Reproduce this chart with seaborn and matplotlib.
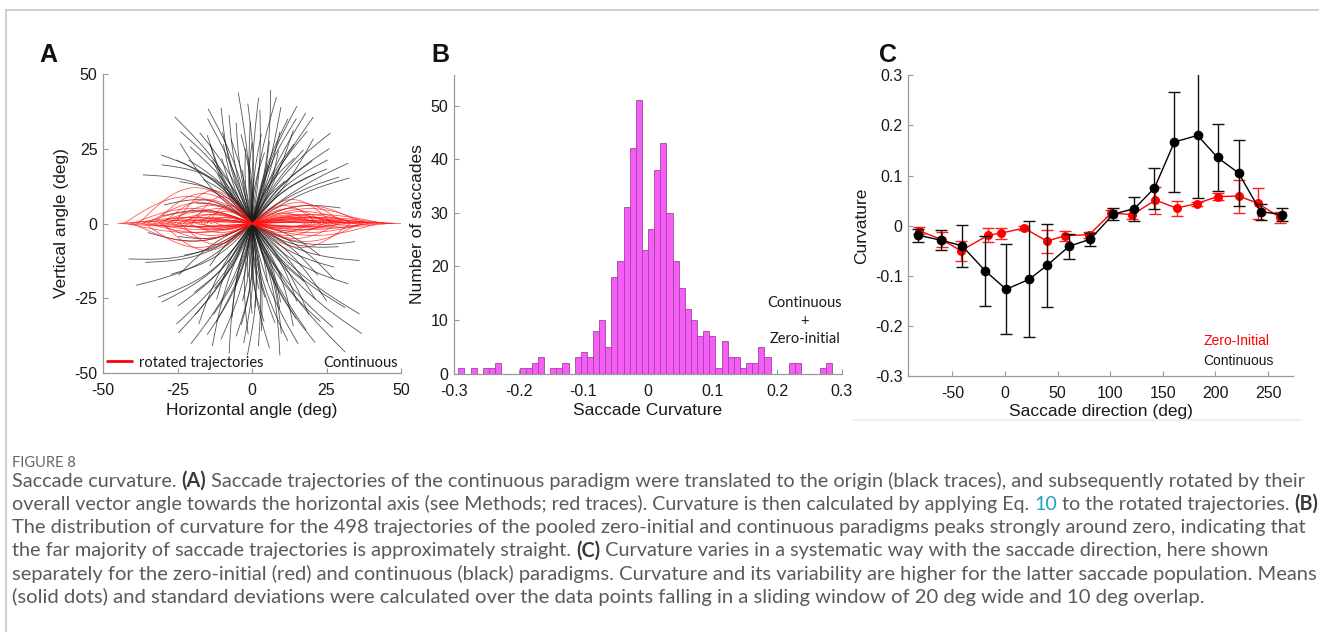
import numpy as np
import pandas as pd
import matplotlib
matplotlib.use("Agg")
import matplotlib.pyplot as plt
import seaborn as sns
from matplotlib.lines import Line2D
from matplotlib.transforms import IdentityTransform

# ---------------- data ----------------
# Panel A: continuous-paradigm trajectories (direction deg, amplitude deg, relative bend)
black_dir = [82, 105, 69, 64, 126, 49, 36, 25, 143, 156, 99, 91, 86, 71, 132, 120, 117, 147, 46, 32,
             28, 57, 95, 78, 110, 62, 138, 125, 100, 75, 88, 52, 168, 160, 113, 97, 84, 66, 59, 40,
             135, 150, 122, 108, 93, 80, 73, 55,
             87, 92, 102, 76, 67, 111, 118, 129, 60, 54, 44, 140, 96, 79, 104, 90, 70, 115, 128, 38,
             196, 221, 243, 266, 291, 315, 306, 341, 332, 250, 258, 262, 270, 275, 280, 285, 295, 300,
             305, 310, 318, 322, 328, 335, 345, 230, 225, 238, 245, 248, 255, 265, 285, 300, 212, 205,
             218, 233, 252, 268, 278, 288, 298, 312, 240, 272, 283,
             255, 260, 264, 268, 273, 277, 282, 287, 292, 297, 302, 308, 314, 320, 326, 236, 242, 247,
             228, 215, 200, 208, 263, 276, 290,
             10, 350, 185, 175, 190]
black_amp = [45, 40, 42, 41, 44, 40, 31, 36, 38, 40, 34, 34, 38, 37, 36, 35, 33, 36, 29, 38,
             33, 26, 25, 28, 28, 30, 22, 20, 18, 20, 15, 18, 30, 20, 38, 30, 30, 34, 36, 33,
             30, 28, 25, 32, 22, 24, 32, 30,
             42, 40, 37, 40, 38, 41, 30, 33, 41, 35, 36, 33, 44, 43, 29, 27, 26, 24, 39, 27,
             43, 40, 45, 40, 43, 52, 53, 38, 31, 35, 32, 38, 30, 36, 25, 38, 35, 30,
             40, 33, 42, 28, 38, 25, 30, 30, 20, 36, 28, 40, 22, 18, 20, 20, 32, 25,
             40, 42, 43, 44, 42, 30, 45, 26, 25, 28, 34,
             40, 44, 34, 37, 41, 33, 45, 41, 37, 40, 36, 44, 36, 47, 33, 44, 38, 33,
             37, 30, 38, 44, 26, 22, 28,
             30, 35, 35, 30, 25]
black_bend = [-0.04, 0.05, 0.04, 0.03, -0.05, 0.06, 0.08, 0.05, -0.10, -0.12, 0.03, 0.02, -0.03, 0.04,
              0.06, -0.05, 0.05, -0.15, 0.06, 0.04, 0.06, 0.08, 0.04, -0.03, 0.05, 0.05, -0.08, 0.06,
              0.03, -0.04, 0.02, 0.07, -0.15, -0.10, -0.03, -0.04, 0.03, -0.03, 0.05, 0.07, -0.07,
              -0.12, 0.04, 0.02, -0.03, 0.05, -0.02, 0.04,
              0.02, -0.03, 0.04, -0.02, 0.05, -0.04, 0.06, -0.05, 0.03, -0.04, 0.06, -0.08, -0.02,
              0.03, -0.03, 0.04, -0.05, 0.05, -0.06, 0.07,
              0.10, 0.08, 0.06, 0.04, -0.05, -0.06, -0.05, -0.08, -0.07, 0.05, -0.04, 0.06, -0.03,
              0.04, -0.05, 0.05, -0.04, 0.06, -0.07, 0.05, -0.06, 0.06, -0.08, 0.07, -0.10, 0.07,
              -0.06, 0.05, -0.05, 0.07, 0.04, -0.03, 0.04, -0.05, 0.09, 0.08, 0.10, 0.06, -0.04,
              0.05, -0.05, 0.05, -0.06, -0.05, 0.06, 0.03, -0.04,
              0.05, -0.04, 0.05, -0.05, 0.04, -0.06, 0.05, -0.05, 0.06, -0.04, 0.05, -0.06, 0.06,
              -0.05, 0.07, 0.05, -0.05, 0.06, 0.07, -0.06, 0.10, 0.08, 0.04, -0.03, 0.05,
              0.10, -0.10, 0.12, -0.10, 0.10]
# rotated trajectories: end point on horizontal axis and peak lateral deviation
red_end_x = [-45, -43, -42, -40, -40, -38, -37, -36, -35, -34, -33, -32, -31, -30, -30, -29, -28, -27,
             -26, -25, -24, -23, -22, -21, -20, -18, -17, -15, -14,
             -44, -41, -39, -37, -35, -33, -31, -29, -27, -25, -23, -21, -19, -16, -12,
             50, 48, 46, 44, 42, 40, 39, 38, 37, 36, 35, 34, 33, 32, 31, 30, 29, 28, 27, 26, 25, 24,
             23, 22, 20, 18,
             47, 45, 43, 41, 39, 37, 35, 33, 31, 29, 27, 25, 23, 21, 19]
red_peak = [1, 9, -3, 5, -6, 12, 2, -8, 7, -2, 10, 4, -5, 8, -9, 1, 6, -4, 11, 3, -7, 5, 2, -3, 9,
            4, -2, 6, 1,
            -1, 2, -1, 4, -3, 1.5, -1, 3, -1.5, 0.5, -2, 1, -1, 2, -1,
            0.5, 1, -1.5, 3, -4, 2, 5, -3, 6, -6, 1, 4, -8, 2, 7, -2, -5, 3, 8, -1, 5, -4, 2, 6,
            -3, 1,
            0.5, 2, -1, 1.5, -2, 0.5, 3, -1, 2.5, 0.5, -2.5, 1.5, -1, 3.5, -1.5]
a_ticks = [-50, -25, 0, 25, 50]

# Panel B: histogram of curvature
hist_counts = [1, 0, 1, 0, 1, 1, 2, 0, 0, 0, 1, 1, 2, 3, 0, 1, 1, 2, 0, 3, 4, 3, 8, 10, 5, 18, 21,
               31, 42, 51, 23, 27, 38, 43, 30, 21, 16, 12, 10, 7, 8, 7, 1, 6, 3, 3, 1, 2, 2, 5, 3,
               0, 0, 0, 2, 2, 0, 0, 0, 1, 2]
hist_min, hist_max = -0.2933, 0.2846
b_xticks = [-0.3, -0.2, -0.1, 0, 0.1, 0.2, 0.3]
b_xlabels = ["-0.3", "-0.2", "-0.1", "0", "0.1", "0.2", "0.3"]
b_yticks = [0, 10, 20, 30, 40, 50]

# Panel C: curvature vs saccade direction
zi_dir = [-82, -60, -42, -16, -4, 18, 40, 57, 80, 101, 121, 143, 163, 182, 202, 222, 240, 261]
zi_mean = [-0.010, -0.028, -0.050, -0.019, -0.015, -0.005, -0.031, -0.020, -0.018, 0.025, 0.022,
           0.051, 0.035, 0.044, 0.058, 0.059, 0.045, 0.017]
zi_sd = [0.007, 0.015, 0.020, 0.014, 0.011, 0.004, 0.023, 0.010, 0.006, 0.007, 0.009, 0.027,
         0.015, 0.004, 0.007, 0.033, 0.031, 0.011]
co_dir = [-83, -61, -41, -19, 1, 23, 40, 61, 81, 103, 123, 142, 161, 183, 202, 222, 243, 263]
co_mean = [-0.019, -0.029, -0.040, -0.090, -0.127, -0.107, -0.079, -0.041, -0.027, 0.023, 0.034,
           0.075, 0.167, 0.180, 0.136, 0.105, 0.028, 0.022]
co_sd = [0.013, 0.020, 0.042, 0.070, 0.090, 0.116, 0.083, 0.025, 0.013, 0.012, 0.024, 0.041,
         0.100, 0.125, 0.067, 0.066, 0.016, 0.013]
c_xticks = [-50, 0, 50, 100, 150, 200, 250]
c_yticks = [-0.3, -0.2, -0.1, 0, 0.1, 0.2, 0.3]
c_ylabels = ["-0.3", "-0.2", "-0.1", "0", "0.1", "0.2", "0.3"]

caption_head = "FIGURE 8"
caption_lines = [
    [("Saccade curvature. ", "n"), ("(A)", "b"), (" Saccade trajectories of the continuous paradigm were translated to the origin (black traces), and subsequently rotated by their", "n")],
    [("overall vector angle towards the horizontal axis (see Methods; red traces). Curvature is then calculated by applying Eq. ", "n"), ("10", "l"), (" to the rotated trajectories. ", "n"), ("(B)", "b")],
    [("The distribution of curvature for the 498 trajectories of the pooled zero-initial and continuous paradigms peaks strongly around zero, indicating that", "n")],
    [("the far majority of saccade trajectories is approximately straight. ", "n"), ("(C)", "b"), (" Curvature varies in a systematic way with the saccade direction, here shown", "n")],
    [("separately for the zero-initial (red) and continuous (black) paradigms. Curvature and its variability are higher for the latter saccade population. Means", "n")],
    [("(solid dots) and standard deviations were calculated over the data points falling in a sliding window of 20 deg wide and 10 deg overlap.", "n")],
]
caption_line_ends = [1303, 1316.5, 1304, 1261.5, 1313, 1203]

# ---------------- style ----------------
sns.set_theme(style="white")
plt.rcParams["font.family"] = ["Liberation Sans", "DejaVu Sans"]
plt.rcParams["axes.unicode_minus"] = False

W, H = 1319, 632
fig = plt.figure(figsize=(W / 100, H / 100), dpi=100)
fig.patch.set_facecolor("white")

axA = fig.add_axes([103 / W, 1 - 373 / H, 298 / W, 299 / H])
axB = fig.add_axes([454 / W, 1 - 373.5 / H, 387.7 / W, 298.5 / H])
axC = fig.add_axes([908.3 / W, 1 - 376 / H, 385 / W, 300.7 / H])

SPINE = "#9a9a9a"
TXT = "#1a1a1a"
TICK_FS = 11.5
LAB_FS = 12.5


def style(ax):
    for s in ["top", "right"]:
        ax.spines[s].set_visible(False)
    for s in ["left", "bottom"]:
        ax.spines[s].set_color(SPINE)
        ax.spines[s].set_linewidth(0.9)
    ax.tick_params(axis="both", which="both", direction="in", length=3.5, width=0.8,
                   color=SPINE, labelsize=TICK_FS, labelcolor=TXT, bottom=True, left=True)
    ax.tick_params(axis="x", pad=7.5)
    ax.tick_params(axis="y", pad=4)
    ax.set_facecolor("white")
    ax.grid(False)


# ---------------- panel A ----------------
t = np.linspace(0, 1, 50)
frames = []
for i, (d, a, b) in enumerate(zip(black_dir, black_amp, black_bend)):
    th = np.deg2rad(d)
    along = a * t
    lat = b * a * np.sin(np.pi * t)
    frames.append(pd.DataFrame({"x": along * np.cos(th) - lat * np.sin(th),
                                "y": along * np.sin(th) + lat * np.cos(th),
                                "trace": i}))
black_df = pd.concat(frames, ignore_index=True)
frames = []
for i, (ex, pk) in enumerate(zip(red_end_x, red_peak)):
    frames.append(pd.DataFrame({"x": ex * t, "y": pk * np.sin(np.pi * t), "trace": i}))
red_df = pd.concat(frames, ignore_index=True)

sns.lineplot(data=black_df, x="x", y="y", units="trace", estimator=None, sort=False,
             color="#1c1c1c", lw=0.6, alpha=0.75, ax=axA, legend=False)
sns.lineplot(data=red_df, x="x", y="y", units="trace", estimator=None, sort=False,
             color="#ff1010", lw=0.55, alpha=0.75, ax=axA, legend=False)
style(axA)
axA.set_xlim(-50, 50)
axA.set_ylim(-50, 50)
axA.set_xticks(a_ticks)
axA.set_yticks(a_ticks)
axA.set_xlabel("Horizontal angle (deg)", fontsize=LAB_FS, color=TXT, va="center")
axA.set_ylabel("Vertical angle (deg)", fontsize=LAB_FS, color=TXT, va="center")
axA.xaxis.set_label_coords(0.5, -0.126)
axA.yaxis.set_label_coords(-0.139, 0.5)
leg = axA.legend(handles=[Line2D([], [], color="#ff0000", lw=2)], labels=["rotated trajectories"],
                 loc="center left", bbox_to_anchor=(0.012, 0.035), frameon=False, borderaxespad=0,
                 borderpad=0, handlelength=1.75, handletextpad=0.45,
                 prop={"family": "Lato", "size": 10.5})
for tx in leg.get_texts():
    tx.set_color(TXT)
axA.text(0.99, 0.035, "Continuous", transform=axA.transAxes, ha="right", va="center",
         fontsize=10.5, family="Lato", color=TXT)

# ---------------- panel B ----------------
edges = np.linspace(hist_min, hist_max, len(hist_counts) + 1)
hist_df = pd.DataFrame({"curv": (edges[:-1] + edges[1:]) / 2, "n": hist_counts})
sns.histplot(data=hist_df, x="curv", weights="n", bins=edges.tolist(), ax=axB, color="#f65cf6",
             edgecolor="#9b4a9b", linewidth=0.6, alpha=1.0)
style(axB)
axB.set_xlim(-0.3, 0.3)
axB.set_ylim(0, 55.7)
axB.set_xticks(b_xticks)
axB.set_xticklabels(b_xlabels)
axB.set_yticks(b_yticks)
axB.set_xlabel("Saccade Curvature", fontsize=LAB_FS, color=TXT, va="center")
axB.set_ylabel("Number of saccades", fontsize=LAB_FS, color=TXT, va="center")
axB.xaxis.set_label_coords(0.5, -0.124)
axB.yaxis.set_label_coords(-0.093, 0.5)
axB.text(0.905, 0.176, "Continuous\n+\nZero-initial", transform=axB.transAxes, ha="center",
         va="center", multialignment="center", linespacing=1.35, fontsize=10.5, family="Lato",
         color=TXT)

# ---------------- panel C ----------------
style(axC)
axC.errorbar(zi_dir, zi_mean, yerr=zi_sd, fmt="none", ecolor="#ff2020", elinewidth=1.0,
             capsize=4, capthick=1.0, zorder=2)
sns.lineplot(x=zi_dir, y=zi_mean, ax=axC, color="#ff0000", lw=1.0, marker="o", markersize=6.5,
             markeredgewidth=0, sort=False, zorder=3)
axC.errorbar(co_dir, co_mean, yerr=co_sd, fmt="none", ecolor="#111111", elinewidth=1.0,
             capsize=4, capthick=1.0, zorder=4)
sns.lineplot(x=co_dir, y=co_mean, ax=axC, color="#000000", lw=1.0, marker="o", markersize=7,
             markeredgewidth=0, sort=False, zorder=5)
axC.set_xlim(-92, 274)
axC.set_ylim(-0.3, 0.3)
axC.set_xticks(c_xticks)
axC.set_yticks(c_yticks)
axC.set_yticklabels(c_ylabels)
axC.set_xlabel("Saccade direction (deg)", fontsize=LAB_FS, color=TXT, va="center")
axC.set_ylabel("Curvature", fontsize=LAB_FS, color=TXT, va="center")
axC.xaxis.set_label_coords(0.5, -0.118)
axC.yaxis.set_label_coords(-0.121, 0.5)
axC.text(0.7655, 0.116, "Zero-Initial", transform=axC.transAxes, ha="left", va="center",
         fontsize=10, color="#ff0000")
axC.text(0.7655, 0.05, "Continuous", transform=axC.transAxes, ha="left", va="center",
         fontsize=10, color=TXT)

# panel letters
for lab, px in [("A", 48), ("B", 440), ("C", 888)]:
    fig.text(px / W, 1 - 55 / H, lab, fontsize=18, fontweight="bold", ha="center", va="center",
             color="#111111")

# frame lines of the figure box
fig.add_artist(Line2D([6 / W, 1.0], [1 - 10 / H, 1 - 10 / H], transform=fig.transFigure,
                      color="#c8c8c8", lw=1.2))
fig.add_artist(Line2D([6 / W, 6 / W], [0.0, 1 - 10 / H], transform=fig.transFigure,
                      color="#c8c8c8", lw=1.2))
fig.add_artist(Line2D([853 / W, 1300 / W], [1 - 420 / H, 1 - 420 / H], transform=fig.transFigure,
                      color="#f0f0f0", lw=1.5))

# ---------------- caption ----------------
fig.canvas.draw()
renderer = fig.canvas.get_renderer()
CAP = "#5a5a5a"
styles = {"n": dict(family="Lato", color=CAP),
          "b": dict(family="Lato", color="#3a3a3a", fontweight="bold"),
          "l": dict(family="Lato", color="#23a3bd")}


def run_width(s, size, st):
    tt = fig.text(0, 0, s + "|", transform=IdentityTransform(), fontsize=size, **styles[st])
    w1 = tt.get_window_extent(renderer).width
    tt.set_text("|")
    w2 = tt.get_window_extent(renderer).width
    tt.remove()
    return w1 - w2


X0 = 12.0
ref = 12.0
sizes = []
for line, end in zip(caption_lines, caption_line_ends):
    w = sum(run_width(s, ref, st) for s, st in line)
    sizes.append(ref * (end - X0) / w)

fig.text(X0, H - 467, caption_head, transform=IdentityTransform(), fontsize=10.5,
         color="#666666", family="Lato", va="baseline", ha="left")
for k, line in enumerate(caption_lines):
    x = X0
    yb = H - (486.7 + 23.25 * k)
    size = sizes[k]
    for s, st in line:
        fig.text(x, yb, s, transform=IdentityTransform(), fontsize=size, va="baseline",
                 ha="left", **styles[st])
        x += run_width(s, size, st)

fig.savefig("out.png", dpi=100, facecolor="white")
